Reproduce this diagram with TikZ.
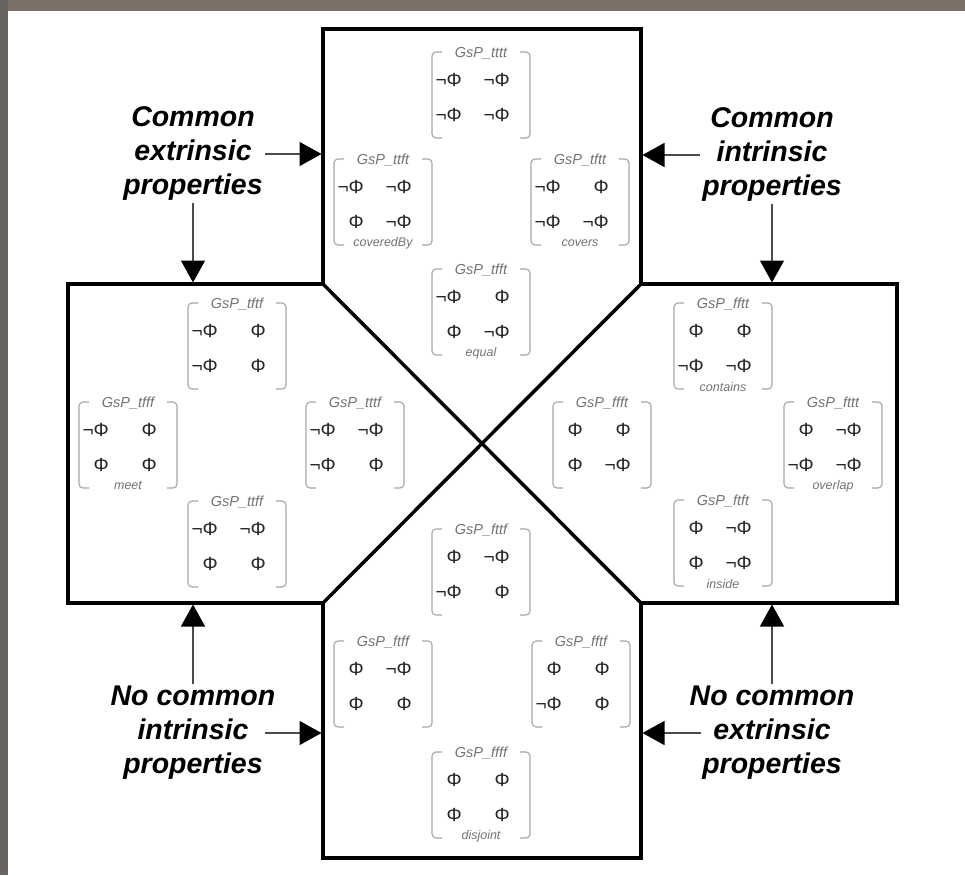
\documentclass[tikz,border=0pt]{standalone}
\usepackage{fontspec}
\setmainfont{Liberation Sans}
\usepackage{tikz}
\usetikzlibrary{arrows.meta,positioning,calc}

% one 2x2 GsP matrix: centre, code, four entries, relation name
\newcommand{\gspmat}[7]{%
  \begin{scope}[shift={#1}]
    \coordinate (#2) at (0,0);
    \draw[brk] (-39,-43) -- (-49,-43) -- (-49,43) -- (-39,43);
    \draw[brk] (39,-43) -- (49,-43) -- (49,43) -- (39,43);
    \node[lbl] (#2-t) at (0,-42) {GsP\_#2};
    \node[ent] (#2-a) at (-19,-15) {#3};
    \node[ent] (#2-b) at (29,-15) {#4};
    \node[ent] (#2-c) at (-19,20) {#5};
    \node[ent] (#2-d) at (29,20) {#6};
    \node[rel] (#2-r) at (0,41) {#7};
  \end{scope}}

\begin{document}
\begin{tikzpicture}[x=1pt,y=-1pt,
  outl/.style={line width=3.5pt,black},
  arr/.style={line width=1.4pt,black!70,-{Triangle[length=22pt,width=24pt,color=black]},shorten >=1.5pt},
  big/.style={align=center,inner sep=2pt,font=\fontsize{28.5}{34}\selectfont\bfseries\itshape},
  brk/.style={line width=1.1pt,black!35,rounded corners=4pt},
  lbl/.style={inner sep=0pt,text=black!55,font=\fontsize{14.5}{15}\selectfont\itshape},
  ent/.style={anchor=east,inner sep=0pt,text=black!85,font=\fontsize{19}{19}\selectfont},
  rel/.style={inner sep=0pt,text=black!55,font=\fontsize{12.5}{13}\selectfont\itshape}]
\useasboundingbox (0,0) rectangle (965,875);
\fill[white] (0,0) rectangle (965,875);
\fill[fill={rgb,255:red,123;green,112;blue,102}] (0,0) rectangle (965,11);
\fill[fill={rgb,255:red,104;green,100;blue,97}] (0,0) rectangle (8,875);

% outline of the four regions
\coordinate (t1) at (323,29);  \coordinate (t2) at (641,29);
\coordinate (r1) at (641,284); \coordinate (r2) at (897,284);
\coordinate (r3) at (897,603); \coordinate (r4) at (641,603);
\coordinate (b1) at (641,858); \coordinate (b2) at (323,858);
\coordinate (l1) at (323,603); \coordinate (l2) at (68,603);
\coordinate (l3) at (68,284);  \coordinate (l4) at (323,284);
\draw[outl] (t1) -- (t2) -- (r1) -- (r2) -- (r3) -- (r4) -- (b1) -- (b2)
  -- (l1) -- (l2) -- (l3) -- (l4) -- cycle;
\draw[outl] (l4) -- (r4);
\draw[outl] (r1) -- (l1);

% top region
\gspmat{(481,95)}{tttt}{¬Φ}{¬Φ}{¬Φ}{¬Φ}{}
\gspmat{(383,202)}{ttft}{¬Φ}{¬Φ}{Φ}{¬Φ}{coveredBy}
\gspmat{(580,202)}{tftt}{¬Φ}{Φ}{¬Φ}{¬Φ}{covers}
\gspmat{(481,312)}{tfft}{¬Φ}{Φ}{Φ}{¬Φ}{equal}
% left region
\gspmat{(237,346)}{tftf}{¬Φ}{Φ}{¬Φ}{Φ}{}
\gspmat{(128,445)}{tfff}{¬Φ}{Φ}{Φ}{Φ}{meet}
\gspmat{(355,445)}{tttf}{¬Φ}{¬Φ}{¬Φ}{Φ}{}
\gspmat{(237,544)}{ttff}{¬Φ}{¬Φ}{Φ}{Φ}{}
% right region
\gspmat{(723,346)}{fftt}{Φ}{Φ}{¬Φ}{¬Φ}{contains}
\gspmat{(602,445)}{ffft}{Φ}{Φ}{Φ}{¬Φ}{}
\gspmat{(833,445)}{fttt}{Φ}{¬Φ}{¬Φ}{¬Φ}{overlap}
\gspmat{(723,543)}{ftft}{Φ}{¬Φ}{Φ}{¬Φ}{inside}
% bottom region
\gspmat{(481,572)}{fttf}{Φ}{¬Φ}{¬Φ}{Φ}{}
\gspmat{(383,684)}{ftff}{Φ}{¬Φ}{Φ}{Φ}{}
\gspmat{(581,684)}{fftf}{Φ}{Φ}{¬Φ}{Φ}{}
\gspmat{(481,795)}{ffff}{Φ}{Φ}{Φ}{Φ}{disjoint}

% side captions
\node[big] (ce) at (193,154) {Common\\extrinsic\\properties};
\node[big] (ci) at (772,155) {Common\\intrinsic\\properties};
\node[big] (ni) at (193,733) {No common\\intrinsic\\properties};
\node[big] (ne) at (772,733) {No common\\extrinsic\\properties};

\draw[arr] (ce.east) -- (ce.east -| t1);
\draw[arr] (ce.south) -- (ce.south |- l3);
\draw[arr] (ci.west) -- (ci.west -| t2);
\draw[arr] (ci.south) -- (ci.south |- r2);
\draw[arr] ([xshift=-13pt]ni.east) -- (ni.east -| l1);
\draw[arr] (ni.north) -- (ni.north |- l2);
\draw[arr] ([xshift=14pt]ne.west) -- (ne.west -| r4);
\draw[arr] (ne.north) -- (ne.north |- r3);
\end{tikzpicture}
\end{document}
